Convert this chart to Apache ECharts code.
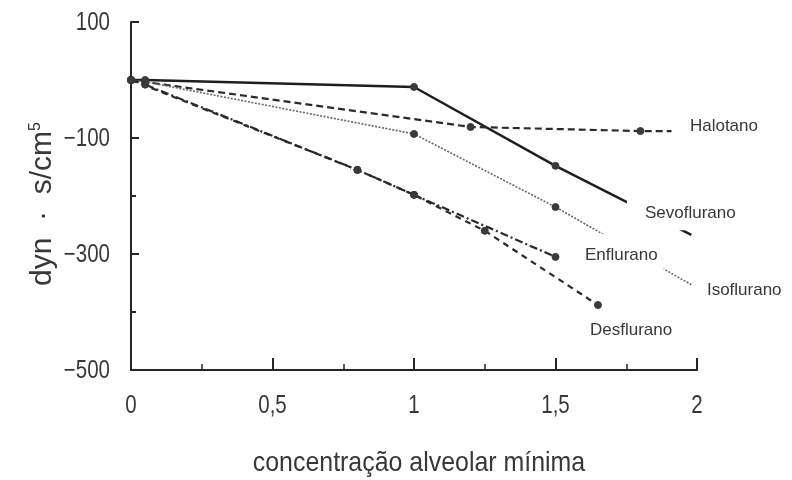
<!DOCTYPE html>
<html>
<head>
<meta charset="utf-8">
<script src="https://cdn.jsdelivr.net/npm/echarts@6/dist/echarts.min.js"></script>
<style>
  html, body { margin: 0; padding: 0; background: #fff; }
  #chart { width: 792px; height: 480px; }
</style>
</head>
<body>
<div id="chart"></div>
<script>
// Concentração alveolar mínima (CAM) vs. resistance change, dyn·s/cm⁵
var sevoX = [0, 0.05, 1, 1.5, 1.98];
var sevoY = [0, 0, -12, -148, -267];

var halotanoX = [0, 1.2, 1.8, 1.91];
var halotanoY = [0, -81, -88, -88];

var isoX = [0, 0.05, 1, 1.5, 1.98];
var isoY = [0, -3, -93, -219, -353];

var enfluranoX = [0, 0.05, 0.8, 1, 1.5];
var enfluranoY = [0, -8, -155, -198, -305];

var desfluranoX = [0, 0.8, 1, 1.25, 1.65];
var desfluranoY = [0, -155, -198, -260, -388];

var xTicks = [0, 0.5, 1, 1.5, 2];
var yTicks = [-500, -300, -100, 100];

var seriesNames = ['Sevoflurano', 'Halotano', 'Isoflurano', 'Enflurano', 'Desflurano'];
var xTitle = 'concentração alveolar mínima';

function pairs(xs, ys) {
  return xs.map(function (x, i) { return [x, ys[i]]; });
}

var textFont = '"Liberation Sans", Arial, sans-serif';
var ink = '#262626';
var textInk = '#383838';
var narrow = 0.82;   // condensed look for axis lettering

// series that run on past their last marker (tail behind the name label)
function lineSeries(name, data, lineStyle, tailOpen) {
  var last = data.length - 1;
  return {
    name: name,
    type: 'line',
    data: data,
    z: 3,
    symbol: function (v, p) { return (tailOpen && p.dataIndex === last) ? 'none' : 'circle'; },
    symbolSize: 7,
    itemStyle: { color: '#3a3a3a', borderColor: '#3a3a3a', borderWidth: 1 },
    lineStyle: lineStyle,
    emphasis: { disabled: true },
    animation: false
  };
}

var chart = echarts.init(document.getElementById('chart'), null, { renderer: 'canvas' });

chart.setOption({
  backgroundColor: '#ffffff',
  animation: false,
  grid: { left: 131, right: 95, top: 22, bottom: 110, containLabel: false },
  xAxis: {
    type: 'value',
    min: xTicks[0],
    max: xTicks[xTicks.length - 1],
    interval: 0.5,
    axisLine: { onZero: false, lineStyle: { color: ink, width: 2 } },
    axisTick: { inside: true, length: 12, lineStyle: { color: ink, width: 2 } },
    minorTick: { show: true, splitNumber: 2, length: 6, lineStyle: { color: ink, width: 1.5 } },
    splitLine: { show: false },
    axisLabel: { show: false }
  },
  yAxis: {
    type: 'value',
    min: yTicks[0],
    max: yTicks[yTicks.length - 1],
    interval: 200,
    axisLine: { onZero: false, lineStyle: { color: ink, width: 2 } },
    axisTick: { inside: true, length: 8, lineStyle: { color: ink, width: 2 } },
    minorTick: { show: true, splitNumber: 2, length: 5, lineStyle: { color: ink, width: 2 } },
    splitLine: { show: false },
    axisLabel: { show: false }
  },
  series: [
    lineSeries(seriesNames[0], pairs(sevoX, sevoY), { color: '#1e1e1e', width: 2.4, type: 'solid' }, true),
    lineSeries(seriesNames[1], pairs(halotanoX, halotanoY), { color: '#2a2a2a', width: 2.2, type: [7, 4] }, true),
    lineSeries(seriesNames[2], pairs(isoX, isoY), { color: '#666', width: 1.6, type: [2, 1.5] }, true),
    lineSeries(seriesNames[3], pairs(enfluranoX, enfluranoY), { color: '#2a2a2a', width: 2.2, type: [8, 3, 2, 3] }, false),
    lineSeries(seriesNames[4], pairs(desfluranoX, desfluranoY), { color: '#2a2a2a', width: 2.2, type: [6, 5] }, false)
  ]
});

function px(pt) { return chart.convertToPixel({ gridIndex: 0 }, pt); }

var graphics = [];

// Tick numbers, set in a condensed face
xTicks.forEach(function (v) {
  var p = px([v, yTicks[0]]);
  graphics.push({
    type: 'text', x: p[0], y: p[1] + 36, scaleX: narrow, z: 10,
    style: { text: String(v).replace('.', ','), fontFamily: textFont, fontSize: 25, fill: textInk,
             align: 'center', verticalAlign: 'middle' }
  });
});
yTicks.forEach(function (v) {
  var p = px([xTicks[0], v]);
  graphics.push({
    type: 'text', x: p[0] - 21, y: p[1] + 1, scaleX: narrow, z: 10,
    style: { text: v < 0 ? '\u2212' + Math.abs(v) : String(v), fontFamily: textFont, fontSize: 25, fill: textInk,
             align: 'right', verticalAlign: 'middle' }
  });
});

// Axis titles
var gridMid = px([(xTicks[0] + xTicks[xTicks.length - 1]) / 2, (yTicks[0] + yTicks[yTicks.length - 1]) / 2]);
graphics.push({
  type: 'text', x: gridMid[0] + 5, y: 463, scaleX: 0.89, z: 10,
  style: { text: xTitle, fontFamily: textFont, fontSize: 28, fill: textInk, align: 'center', verticalAlign: 'middle' }
});
graphics.push({
  type: 'text', x: 43, y: 204, rotation: Math.PI / 2, z: 10,
  style: {
    text: '{t|dyn  ·  s/cm}{s|5}',
    align: 'center', verticalAlign: 'middle',
    rich: {
      t: { fontFamily: textFont, fontSize: 30, fill: textInk },
      s: { fontFamily: textFont, fontSize: 16, fill: textInk, verticalAlign: 'top', padding: [0, 0, 14, 0] }
    }
  }
});

// Series names next to the line ends, on a white plate that breaks the lines beneath.
// "at" is where the lettering starts; the plate reaches out by its padding.
var nameSpots = {
  Halotano:    { at: [1.975, -79],  pad: [3, 4, 3, 4] },
  Sevoflurano: { at: [1.816, -229], pad: [9, 6, 9, 18] },
  Enflurano:   { at: [1.604, -302], pad: [13, 6, 13, 6] },
  Isoflurano:  { at: [2.035, -362], pad: [3, 4, 3, 4] },
  Desflurano:  { at: [1.622, -431], pad: [3, 4, 3, 4] }
};

seriesNames.forEach(function (name) {
  var spot = nameSpots[name];
  var p = px(spot.at);
  graphics.push({
    type: 'text', x: p[0] - spot.pad[3], y: p[1], z: 10,
    style: {
      text: name, fontFamily: textFont, fontSize: 17, fill: textInk,
      align: 'left', verticalAlign: 'middle',
      backgroundColor: '#fff', padding: spot.pad
    }
  });
});

chart.setOption({ graphic: graphics });
</script>
</body>
</html>
